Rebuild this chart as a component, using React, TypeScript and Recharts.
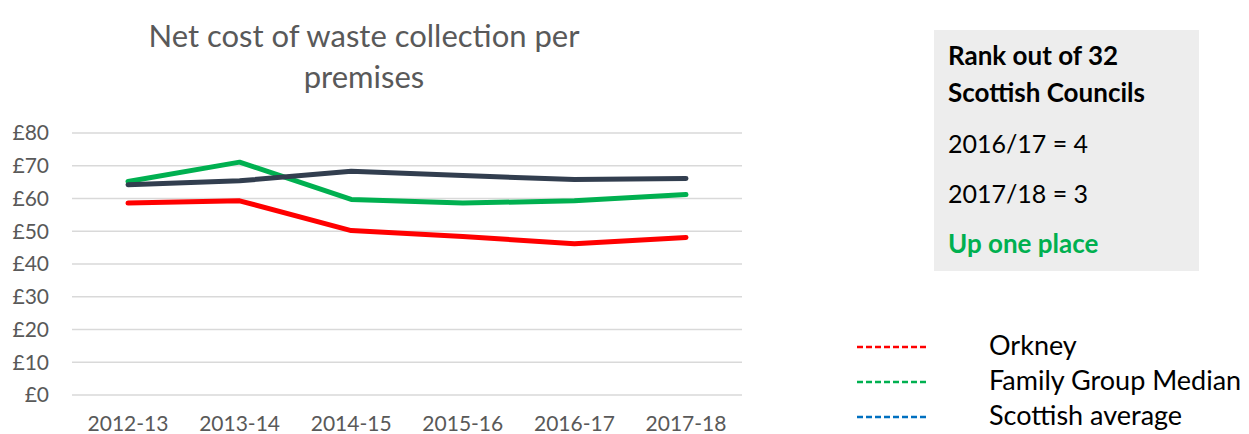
import React from "react";
import { LineChart, Line, XAxis, YAxis, CartesianGrid } from "recharts";

const years = ["2012-13", "2013-14", "2014-15", "2015-16", "2016-17", "2017-18"];
const orkney = [58.6, 59.3, 50.2, 48.4, 46.2, 48.1];
const familyMedian = [65.2, 71.1, 59.7, 58.6, 59.3, 61.2];
const scottishAvg = [64.2, 65.4, 68.3, 67.0, 65.8, 66.1];
const yTicks = [0, 10, 20, 30, 40, 50, 60, 70, 80];

const seriesNames = ["Orkney", "Family Group Median", "Scottish average"];
const legendColors = ["#FF0000", "#00B050", "#0070C0"];

const data = years.map((y, i) => ({
  year: y,
  orkney: orkney[i],
  family: familyMedian[i],
  scot: scottishAvg[i],
}));

const FONT = "Lato, 'Open Sans', sans-serif";

export default function App() {
  return (
    <div
      style={{
        position: "absolute",
        left: 0,
        top: 0,
        width: 1249,
        height: 434,
        background: "#fff",
        fontFamily: FONT,
        overflow: "hidden",
      }}
    >
      <div
        style={{
          position: "absolute",
          left: 64,
          top: 15,
          width: 600,
          textAlign: "center",
          fontSize: 31,
          lineHeight: "41px",
          color: "#595959",
        }}
      >
        Net cost of waste collection per
        <br />
        premises
      </div>

      <div style={{ position: "absolute", left: 0, top: 0 }}>
        <LineChart
          width={760}
          height={434}
          data={data}
          margin={{ top: 133, right: 18, left: 0, bottom: 9 }}
        >
          <CartesianGrid horizontal vertical={false} stroke="#D9D9D9" strokeWidth={1.5} />
          <XAxis
            dataKey="year"
            axisLine={false}
            tickLine={false}
            tickSize={0}
            tickMargin={21}
            height={30}
            padding={{ left: 56, right: 56 }}
            tick={{ fill: "#595959", fontSize: 21, fontFamily: FONT }}
            interval={0}
          />
          <YAxis
            domain={[0, 80]}
            ticks={yTicks}
            width={72}
            axisLine={false}
            tickLine={false}
            tickSize={0}
            tickMargin={23}
            tickFormatter={(v: number) => `£${v}`}
            tick={{ fill: "#595959", fontSize: 21, fontFamily: FONT }}
            interval={0}
          />
          <Line
            type="linear"
            dataKey="orkney"
            name={seriesNames[0]}
            stroke="#FF0000"
            strokeWidth={5}
            strokeLinecap="round"
            strokeLinejoin="round"
            dot={false}
            isAnimationActive={false}
          />
          <Line
            type="linear"
            dataKey="family"
            name={seriesNames[1]}
            stroke="#00B050"
            strokeWidth={5}
            strokeLinecap="round"
            strokeLinejoin="round"
            dot={false}
            isAnimationActive={false}
          />
          <Line
            type="linear"
            dataKey="scot"
            name={seriesNames[2]}
            stroke="#323E4F"
            strokeWidth={5}
            strokeLinecap="round"
            strokeLinejoin="round"
            dot={false}
            isAnimationActive={false}
          />
        </LineChart>
      </div>

      <div
        style={{
          position: "absolute",
          left: 934,
          top: 30,
          width: 265,
          height: 241,
          background: "#EDEDED",
        }}
      />
      {[
        { t: "Rank out of 32", y: 65, bold: true, c: "#000" },
        { t: "Scottish Councils", y: 102, bold: true, c: "#000" },
        { t: "2016/17 = 4", y: 153, bold: false, c: "#000" },
        { t: "2017/18 = 3", y: 203, bold: false, c: "#000" },
        { t: "Up one place", y: 253, bold: true, c: "#00B050" },
      ].map((r) => (
        <div
          key={r.t}
          style={{
            position: "absolute",
            left: 948,
            top: r.y - 26,
            fontSize: r.bold ? 26 : 25,
            lineHeight: "32px",
            fontWeight: r.bold ? 700 : 400,
            color: r.c,
            whiteSpace: "nowrap",
          }}
        >
          {r.t}
        </div>
      ))}

      {seriesNames.map((n, i) => {
        const y = [347, 382, 417][i];
        return (
          <React.Fragment key={n}>
            <svg
              style={{ position: "absolute", left: 855, top: y - 3 }}
              width={76}
              height={6}
            >
              <line
                x1={2}
                y1={3}
                x2={73}
                y2={3}
                stroke={legendColors[i]}
                strokeWidth={2.5}
                strokeDasharray="6 3"
              />
            </svg>
            <div
              style={{
                position: "absolute",
                left: 989,
                top: y - 19,
                fontSize: 27,
                lineHeight: "34px",
                color: "#000",
                whiteSpace: "nowrap",
              }}
            >
              {n}
            </div>
          </React.Fragment>
        );
      })}
    </div>
  );
}
